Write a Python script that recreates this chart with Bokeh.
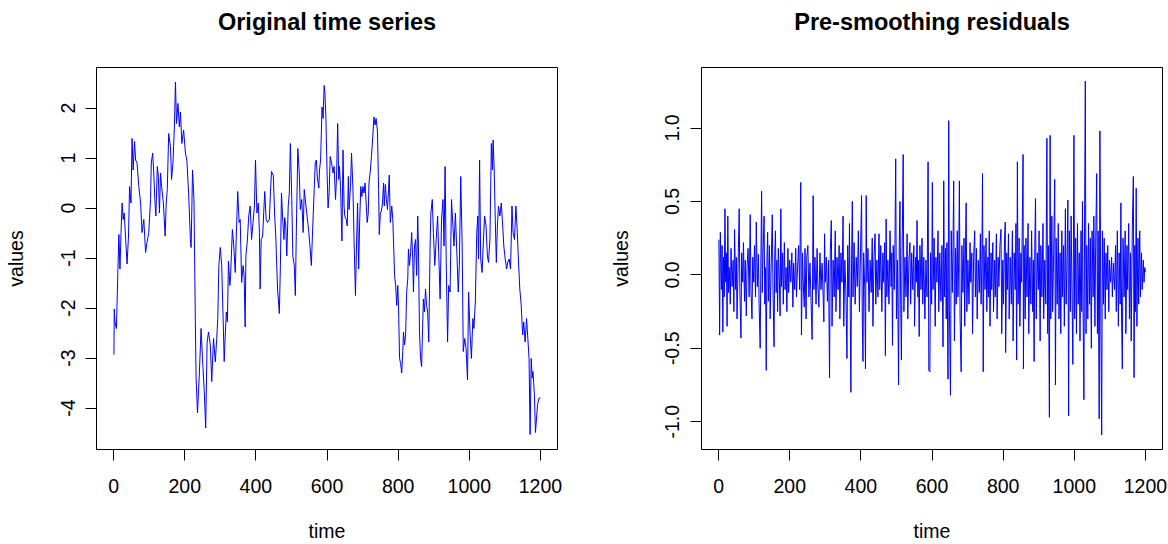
from bokeh.plotting import figure
from bokeh.layouts import row
from bokeh.models import Range1d, FixedTicker, NumeralTickFormatter, LinearAxis
from bokeh.embed import file_html
from bokeh.resources import INLINE

# ---------------- data ----------------
orig_time = [1, 2, 4, 8, 9, 12, 15, 18, 21, 24, 27, 30, 34, 38, 42, 45, 49, 52, 55, 59,
             62, 66, 71, 76, 80, 85, 90, 94, 99, 104, 106, 110, 113, 116, 119, 123, 126, 129, 132, 135,
             140, 145, 148, 151, 155, 160, 163, 167, 171, 174, 177, 181, 185, 188, 192, 197, 202, 206, 211, 216,
             218, 222, 226, 230, 232, 236, 241, 246, 250, 255, 259, 263, 267, 272, 276, 281, 286, 290, 293, 296,
             300, 304, 308, 311, 314, 317, 320, 323, 327, 329, 334, 338, 342, 345, 349, 353, 356, 360, 364, 367,
             370, 372, 376, 380, 384, 388, 392, 396, 399, 403, 407, 410, 412, 415, 419, 423, 425, 429, 433, 438,
             441, 444, 449, 453, 456, 461, 466, 469, 472, 476, 479, 481, 484, 487, 491, 494, 497, 501, 504, 508,
             511, 514, 518, 522, 525, 529, 533, 536, 540, 544, 549, 552, 556, 560, 564, 567, 570, 573, 577, 579,
             582, 586, 589, 592, 594, 597, 600, 603, 606, 609, 613, 617, 620, 624, 627, 630, 633, 635, 638, 642,
             645, 648, 650, 654, 657, 660, 662, 666, 669, 673, 676, 680, 683, 686, 689, 692, 695, 698, 701, 704,
             707, 710, 713, 716, 718, 722, 725, 729, 732, 735, 738, 742, 745, 747, 750, 753, 756, 759, 761, 764,
             767, 770, 773, 775, 778, 782, 785, 788, 790, 793, 796, 799, 801, 804, 807, 810, 813, 815, 818, 821,
             824, 827, 829, 832, 835, 838, 841, 843, 846, 849, 852, 855, 857, 860, 863, 866, 869, 871, 874, 877,
             880, 883, 886, 890, 892, 896, 899, 903, 907, 911, 914, 918, 922, 926, 929, 932, 935, 939, 942, 946,
             950, 954, 957, 961, 965, 969, 972, 976, 980, 983, 987, 991, 995, 998, 1002, 1006, 1010, 1013, 1017, 1021,
             1024, 1026, 1029, 1032, 1036, 1039, 1043, 1047, 1051, 1054, 1058, 1062, 1065, 1067, 1070, 1073, 1076, 1079, 1082, 1086,
             1090, 1094, 1097, 1101, 1105, 1108, 1112, 1116, 1120, 1123, 1127, 1131, 1135, 1138, 1142, 1146, 1150, 1153, 1157, 1161,
             1164, 1168, 1171, 1174, 1177, 1179, 1183, 1186, 1189, 1192, 1196, 1200]
orig_values = [-2.93, -2.02, -2.28, -2.41, -2.15, -1.29, -0.53, -1.22, -0.49, 0.10, -0.23, -0.10, -0.63, -1.12, -0.56, 0.43, 0.10, 1.39, 0.76, 1.33,
               0.96, 0.90, 0.43, 0.10, -0.49, -0.23, -0.89, -0.69, -0.49, 0.17, 0.90, 1.10, 0.70, 0.17, -0.16, 0.83, 0.63, -0.10, 0.70, 0.43,
               0.10, -0.56, 0.10, 0.37, 1.49, 1.23, 0.57, 0.90, 1.62, 2.52, 1.69, 2.09, 1.62, 1.92, 1.29, 1.56, 1.10, 0.96, 0.30, -0.63,
               -0.79, 0.76, 0.17, -2.34, -3.40, -4.10, -3.34, -2.41, -3.01, -3.67, -4.40, -2.68, -2.48, -2.74, -3.47, -2.61, -3.08, -2.61, -2.21, -1.15,
               -0.79, -1.15, -2.21, -3.07, -2.54, -2.08, -2.28, -1.06, -1.55, -1.35, -0.43, -0.76, -1.29, -0.56, 0.33, -0.29, -0.23, -1.49, -1.15, -1.35,
               -2.38, -0.96, -0.66, -0.16, 0.04, -0.63, -0.29, 0.04, 0.96, -0.10, 0.10, -0.49, -1.62, -0.63, -0.56, 0.04, 0.33, -0.23, -0.29, -0.23,
               0.30, 0.73, 0.66, -0.16, -0.56, -1.62, -2.11, -1.15, 0.30, -0.29, -0.63, -0.19, -0.36, -0.96, 0.04, 0.30, 1.29, 0.17, -0.96, -1.15,
               -1.75, -0.36, 1.19, 0.70, -0.03, 0.17, -0.49, 0.37, 0.10, -0.16, -0.49, -0.76, -1.15, -0.36, 0.37, 0.90, 0.96, 0.60, 0.40, 0.76,
               0.96, 2.02, 1.79, 2.45, 2.32, 1.79, 0.76, 0.00, 0.30, 1.03, 0.90, 0.70, 0.83, 0.17, 0.66, 1.69, 0.57, 0.83, 0.43, -0.66,
               1.16, 0.04, -0.16, -0.23, -0.36, 0.63, -0.03, 0.43, 1.10, 0.37, -0.63, -1.75, -0.76, 0.10, -1.22, -0.23, 0.43, 0.23, 0.43, 0.30,
               0.50, 0.10, -0.29, -0.10, 0.50, 0.76, 1.03, 1.46, 1.82, 1.66, 1.79, 1.52, 0.37, -0.53, -0.10, -0.06, 0.10, 0.50, 0.04, 0.47,
               0.17, -0.03, 0.37, 0.66, -0.29, 0.04, -0.23, -0.89, -1.35, -1.55, -1.95, -1.55, -1.95, -3.01, -3.11, -3.30, -2.87, -2.48, -2.74, -2.54,
               -1.68, -1.42, -0.82, -1.15, -0.89, -0.49, -1.02, -1.68, -0.76, -0.63, -1.35, -0.16, -0.76, -2.48, -3.01, -3.17, -2.34, -1.82, -2.08, -1.62,
               -1.95, -2.08, -2.68, -0.70, -0.10, 0.17, -0.49, -1.15, -0.63, -0.16, -0.89, -1.82, -0.23, 0.17, -0.76, 0.83, -1.02, -2.68, -1.55, -1.68,
               0.17, -0.36, -0.76, -0.10, -0.89, -1.68, -1.15, 0.63, -0.76, -2.87, -2.61, -2.81, -3.44, -1.68, -2.48, -3.01, -2.21, -2.41, -1.88, -0.49,
               -0.16, -1.02, 0.96, -1.02, -1.29, -0.76, -0.16, -0.36, -0.96, -1.09, -0.63, 1.29, 0.76, 1.36, 0.76, -0.23, -1.09, -0.36, 0.04, -0.16,
               0.10, -0.36, -0.76, -1.02, -1.22, -1.09, -1.02, -1.22, 0.04, -0.49, -0.63, 0.04, -0.49, -1.02, -1.62, -1.95, -2.54, -2.28, -2.68, -2.21,
               -2.54, -3.01, -4.53, -3.01, -3.40, -3.27, -3.73, -4.49, -4.20, -3.93, -3.80, -3.80]

resid_time = [1, 3, 5, 8, 10, 12, 14, 16, 18, 20, 22, 24, 26, 28, 30, 33, 35, 38, 41, 43,
              45, 48, 50, 52, 55, 58, 60, 63, 65, 68, 70, 73, 75, 78, 80, 83, 86, 89, 91, 94,
              96, 99, 101, 104, 106, 109, 112, 114, 117, 119, 121, 123, 125, 128, 130, 132, 134, 136, 138, 140,
              143, 145, 148, 151, 153, 156, 158, 160, 162, 164, 166, 168, 171, 173, 175, 177, 180, 182, 185, 187,
              190, 192, 195, 197, 200, 203, 206, 209, 211, 214, 217, 219, 222, 225, 228, 231, 233, 236, 238, 241,
              243, 246, 248, 251, 254, 257, 260, 263, 266, 268, 271, 274, 277, 279, 282, 285, 288, 291, 294, 296,
              298, 300, 303, 306, 309, 312, 314, 317, 319, 322, 325, 328, 330, 333, 336, 339, 341, 344, 347, 350,
              352, 355, 358, 361, 363, 366, 368, 370, 372, 374, 376, 378, 381, 384, 387, 390, 393, 396, 399, 402,
              404, 406, 408, 411, 413, 415, 417, 420, 423, 426, 429, 432, 434, 437, 440, 442, 445, 448, 451, 453,
              456, 459, 462, 464, 467, 469, 471, 473, 476, 479, 482, 485, 487, 489, 491, 494, 496, 498, 500, 503,
              506, 508, 510, 512, 514, 516, 519, 521, 524, 527, 530, 532, 535, 538, 540, 543, 546, 549, 551, 554,
              556, 558, 560, 562, 564, 566, 569, 572, 574, 577, 580, 583, 586, 589, 591, 594, 596, 599, 601, 603,
              606, 609, 611, 614, 617, 619, 622, 625, 628, 631, 633, 635, 638, 640, 642, 645, 647, 649, 652, 654,
              657, 659, 661, 663, 666, 668, 671, 673, 675, 677, 679, 682, 684, 687, 690, 692, 694, 696, 698, 701,
              704, 707, 709, 712, 714, 717, 720, 722, 725, 727, 730, 733, 736, 738, 740, 742, 744, 746, 749, 752,
              754, 757, 759, 761, 763, 766, 768, 771, 773, 776, 778, 781, 783, 786, 788, 791, 794, 796, 799, 801,
              804, 806, 807, 810, 812, 815, 817, 820, 823, 826, 828, 831, 834, 836, 838, 840, 842, 845, 847, 850,
              852, 854, 856, 857, 859, 862, 864, 867, 870, 872, 875, 878, 880, 883, 885, 887, 889, 891, 893, 896,
              899, 901, 904, 906, 909, 912, 914, 917, 920, 923, 925, 927, 930, 932, 934, 937, 939, 942, 945, 947,
              949, 952, 955, 957, 960, 962, 965, 967, 970, 972, 975, 977, 980, 982, 984, 986, 989, 991, 994, 996,
              999, 1001, 1004, 1006, 1009, 1011, 1014, 1016, 1019, 1021, 1023, 1025, 1027, 1029, 1031, 1033, 1035, 1038, 1040, 1043,
              1045, 1048, 1050, 1053, 1055, 1058, 1060, 1063, 1065, 1067, 1070, 1072, 1075, 1077, 1079, 1082, 1084, 1087, 1089, 1092,
              1094, 1097, 1099, 1102, 1105, 1107, 1110, 1113, 1116, 1118, 1121, 1124, 1126, 1129, 1131, 1133, 1135, 1137, 1140, 1143,
              1145, 1148, 1150, 1153, 1155, 1158, 1160, 1163, 1166, 1168, 1170, 1172, 1174, 1176, 1179, 1181, 1184, 1186, 1189, 1191,
              1194, 1196, 1198, 1200]
resid_values = [0.24, -0.41, 0.29, -0.10, 0.20, -0.39, 0.12, -0.15, 0.45, -0.05, 0.15, -0.35, 0.40, -0.12, 0.05, -0.20, 0.18, -0.08, 0.10, -0.25,
                0.31, -0.10, 0.12, -0.30, 0.08, 0.45, -0.12, -0.43, 0.15, -0.05, 0.22, -0.18, 0.10, -0.28, 0.05, 0.18, -0.15, 0.41, -0.10, -0.30,
                0.12, -0.05, 0.20, -0.15, 0.36, -0.08, 0.14, -0.20, -0.50, 0.10, 0.57, -0.12, 0.15, 0.40, -0.20, 0.05, -0.65, 0.10, 0.29, -0.18,
                0.20, -0.30, 0.08, 0.41, -0.10, -0.49, 0.15, 0.30, -0.12, 0.10, -0.25, 0.18, -0.05, -0.28, 0.45, -0.08, 0.15, -0.20, 0.22, -0.10,
                0.05, -0.25, 0.18, -0.12, 0.10, -0.05, 0.15, -0.22, 0.08, -0.10, 0.18, -0.15, 0.05, 0.20, -0.10, 0.63, -0.41, 0.15, -0.05, -0.22,
                0.18, -0.30, 0.12, 0.20, -0.15, 0.08, -0.18, -0.44, 0.54, -0.10, 0.12, -0.20, 0.18, -0.05, -0.22, 0.15, -0.10, 0.08, -0.15, -0.32,
                0.28, -0.05, 0.12, -0.18, 0.10, -0.70, 0.15, 0.37, -0.35, 0.10, -0.15, 0.30, -0.25, 0.12, -0.10, 0.20, -0.30, 0.15, -0.05, 0.40,
                -0.35, 0.10, -0.12, -0.57, 0.20, -0.15, 0.35, -0.20, -0.80, 0.10, 0.50, -0.15, 0.22, -0.20, 0.12, -0.08, 0.30, -0.25, 0.15, 0.54,
                -0.30, -0.59, 0.15, -0.10, -0.64, 0.54, -0.05, 0.18, -0.25, 0.10, -0.12, 0.25, -0.35, 0.12, 0.28, -0.20, 0.10, -0.15, 0.28, -0.10,
                0.20, -0.25, 0.15, -0.05, 0.22, -0.55, 0.38, -0.15, 0.10, -0.20, 0.30, -0.08, 0.15, -0.48, 0.20, -0.10, 0.25, 0.79, -0.30, 0.10,
                -0.75, 0.20, 0.50, -0.20, -0.58, 0.15, 0.82, -0.25, 0.12, -0.15, 0.28, -0.30, 0.10, 0.22, -0.20, 0.15, -0.10, 0.20, -0.35, 0.12,
                -0.05, 0.37, -0.15, 0.10, -0.42, 0.20, -0.10, 0.25, -0.20, 0.12, -0.30, 0.10, -0.15, 0.77, -0.65, -0.66, 0.15, -0.20, 0.63, -0.10,
                0.25, -0.35, 0.12, -0.05, 0.30, -0.25, 0.15, -0.18, 0.20, -0.49, 0.64, -0.15, 0.18, -0.30, 0.22, -0.71, 1.05, -0.25, -0.82, 0.30,
                -0.12, 0.20, 0.64, -0.45, 0.18, -0.20, 0.30, -0.15, 0.10, 0.64, -0.30, -0.66, 0.20, -0.12, 0.25, -0.35, 0.15, 0.49, -0.25, 0.10,
                -0.20, 0.22, -0.05, 0.15, -0.40, 0.12, 0.30, -0.15, 0.18, -0.30, 0.10, -0.12, 0.28, -0.20, 0.05, 0.69, -0.66, 0.20, -0.10, 0.25,
                -0.25, 0.12, -0.15, 0.30, -0.35, 0.15, -0.10, 0.22, -0.25, 0.10, -0.15, 0.28, -0.30, 0.12, -0.08, 0.20, 0.31, -0.40, 0.10, -0.20,
                0.25, 0.36, -0.53, 0.15, -0.10, 0.28, -0.30, 0.12, -0.20, 0.30, -0.45, 0.15, -0.10, 0.35, -0.58, 0.77, -0.20, 0.25, -0.35, 0.15,
                -0.05, 0.40, 0.82, -0.64, 0.20, -0.30, 0.25, -0.15, 0.35, -0.40, 0.12, -0.20, 0.30, -0.25, 0.10, -0.59, 0.20, 0.52, -0.30, 0.15,
                -0.10, 0.30, -0.45, 0.20, -0.15, 0.35, -0.30, 0.10, -0.20, 0.93, -0.40, 0.20, -0.97, 0.95, -0.30, 0.40, -0.25, 0.15, 0.65, -0.75,
                0.25, -0.20, 0.35, -0.30, 0.15, -0.40, 0.30, -0.15, 0.20, -0.35, 0.45, -0.20, 0.15, 0.51, -0.96, 0.30, -0.25, 0.40, -0.20, -0.61,
                0.95, -0.30, 0.25, -0.40, 0.35, -0.20, 0.15, -0.45, 0.30, -0.25, 0.50, -0.30, -0.85, 0.40, 1.32, -0.40, 0.20, -0.30, 0.35, -0.20,
                0.25, -0.50, 0.30, -0.15, 0.40, -0.35, 0.20, 0.69, -0.40, 0.30, -0.98, 0.98, -0.45, -1.09, 0.30, -0.20, 0.25, -0.30, 0.15, -0.10,
                0.20, -0.25, 0.10, -0.05, 0.12, -0.15, 0.08, -0.10, 0.20, -0.25, 0.30, -0.35, 0.15, -0.20, 0.49, -0.30, -0.64, 0.25, -0.15, 0.30,
                -0.40, 0.20, -0.10, 0.35, -0.30, 0.15, -0.45, 0.30, 0.67, -0.70, 0.20, -0.25, 0.59, -0.35, 0.25, -0.20, 0.30, -0.15, 0.15, -0.10,
                0.10, -0.05, 0.05, 0.02]

x_ticks = [0, 200, 400, 600, 800, 1000, 1200]
orig_y_ticks = [-4, -3, -2, -1, 0, 1, 2]
resid_y_ticks = [-1.0, -0.5, 0.0, 0.5, 1.0]
titles = ["Original time series", "Pre-smoothing residuals"]
x_label = "time"
y_label = "values"

FONT = "Liberation Sans"
X_LO, X_HI = -47.96, 1247.96


def style_axis(ax):
    ax.axis_line_color = None
    ax.major_tick_line_color = "black"
    ax.major_tick_in = 0
    ax.major_tick_out = 11
    ax.minor_tick_line_color = None
    ax.major_label_text_font = FONT
    ax.major_label_text_font_size = "19.5px"
    ax.major_label_text_color = "black"
    ax.axis_label_text_font = FONT
    ax.axis_label_text_font_size = "19.5px"
    ax.axis_label_text_font_style = "normal"
    ax.axis_label_text_color = "black"


def make_panel(title, t, v, y_lo, y_hi, yticks, yfmt, width, border_left, border_right):
    p = figure(width=width, height=544, output_backend="svg", toolbar_location=None,
               x_range=Range1d(X_LO, X_HI), y_range=Range1d(y_lo, y_hi),
               min_border_left=border_left, min_border_right=border_right,
               min_border_top=67, min_border_bottom=92)
    p.line(t, v, line_color="#0000ff", line_width=1)
    p.background_fill_color = "white"
    p.border_fill_color = "white"
    p.outline_line_color = "black"
    p.outline_line_width = 1
    p.grid.visible = False

    bottom = p.below[0]
    style_axis(bottom)
    bottom.ticker = FixedTicker(ticks=x_ticks)
    bottom.formatter = NumeralTickFormatter(format="0")
    bottom.axis_label = x_label
    bottom.major_label_standoff = 18
    bottom.axis_label_standoff = 24

    left = p.left[0]
    style_axis(left)
    left.ticker = FixedTicker(ticks=yticks)
    left.formatter = NumeralTickFormatter(format=yfmt)
    left.major_label_orientation = "vertical"
    left.axis_label = y_label
    left.major_label_standoff = 11
    left.axis_label_standoff = 31

    # title: an empty axis above the frame whose label is the bold title,
    # so it is centred over the frame like R's main title
    top = LinearAxis(ticker=FixedTicker(ticks=[]), axis_label=title,
                     axis_line_color=None, major_tick_line_color=None,
                     minor_tick_line_color=None, major_label_text_font_size="0px",
                     major_tick_out=0, major_tick_in=0, major_label_standoff=0,
                     axis_label_standoff=33, axis_label_text_font=FONT,
                     axis_label_text_font_size="23.5px", axis_label_text_font_style="bold",
                     axis_label_text_color="black")
    p.add_layout(top, "above")
    return p


p1 = make_panel(titles[0], orig_time, orig_values, -4.83, 2.81, orig_y_ticks, "0",
                width=564, border_left=96, border_right=7)
p2 = make_panel(titles[1], resid_time, resid_values, -1.189, 1.412, resid_y_ticks, "0.0",
                width=604, border_left=137, border_right=6)

layout = row(p1, p2)
open("out.html", "w").write(file_html(layout, INLINE))
